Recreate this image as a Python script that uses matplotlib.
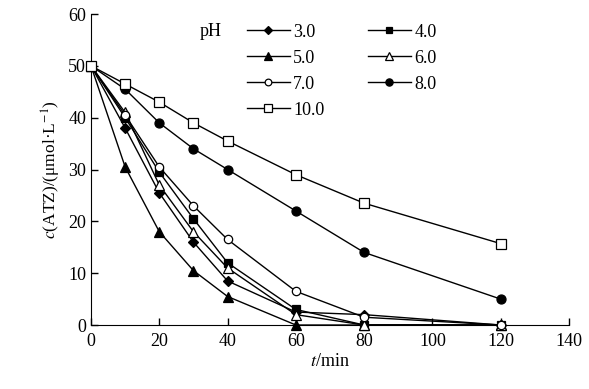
import matplotlib
matplotlib.use('Agg')
import matplotlib.pyplot as plt

plt.rcParams['font.family'] = ['Liberation Serif', 'DejaVu Serif']
plt.rcParams['mathtext.fontset'] = 'stix'

t = [0, 10, 20, 30, 40, 60, 80, 120]
ph_labels = ['3.0', '4.0', '5.0', '6.0', '7.0', '8.0', '10.0']
ph30 = [50, 38, 25.5, 16, 8.5, 2.5, 2, 0]
ph40 = [50, 40, 29.5, 20.5, 12, 3, 0, 0]
ph50 = [50, 30.5, 18, 10.5, 5.5, 0, 0, 0]
ph60 = [50, 41, 27, 18, 11, 2, 0, 0]
ph70 = [50, 40.5, 30.5, 23, 16.5, 6.5, 1.5, 0]
ph80 = [50, 45.5, 39, 34, 30, 22, 14, 5]
ph100 = [50, 46.5, 43, 39, 35.5, 29, 23.5, 15.7]

series = [ph30, ph40, ph50, ph60, ph70, ph80, ph100]
markers = ['D', 's', '^', '^', 'o', 'o', 's']
filled = [True, True, True, False, False, True, False]
msizes = [5.5, 6, 6.5, 6.5, 6, 6.5, 6.5]

fig = plt.figure(figsize=(5.89, 3.89), dpi=100)
ax = fig.add_axes([0.1545, 0.1645, 0.8115, 0.7995])

handles = []
for y, m, f, ms, lab in zip(series, markers, filled, msizes, ph_labels):
    h, = ax.plot(t, y, color='black', linewidth=1.0, marker=m, markersize=ms,
                 markerfacecolor='black' if f else 'white',
                 markeredgecolor='black', markeredgewidth=0.9,
                 label=lab, clip_on=False, zorder=3)
    handles.append(h)

ax.set_xlim(0, 140)
ax.set_ylim(0, 60)
ax.set_xticks(range(0, 141, 20))
ax.set_yticks(range(0, 61, 10))
ax.spines['top'].set_visible(False)
ax.spines['right'].set_visible(False)
ax.tick_params(direction='in', length=5, width=1, labelsize=13)
ax.tick_params(axis='x', pad=6)
ax.set_xlabel(r'$t$/min', fontsize=13, labelpad=2)
ax.set_ylabel(r'$c$(ATZ)/(μmol·L$^{-1}$)', fontsize=12.5, labelpad=4)

# legend laid out row by row like the original: 3.0 4.0 / 5.0 6.0 / ...
order = [0, 2, 4, 6, 1, 3, 5]
leg = ax.legend([handles[i] for i in order], [ph_labels[i] for i in order],
                ncol=2, frameon=False, fontsize=13, loc='upper left',
                bbox_to_anchor=(0.326, 0.969), borderpad=0, borderaxespad=0,
                handlelength=2.4, columnspacing=2.4, labelspacing=0.5,
                handletextpad=0.17, markerscale=0.8)
ax.text(0.228, 0.945, 'pH', transform=ax.transAxes, fontsize=13, va='center')

fig.savefig('out.png', dpi=100)
